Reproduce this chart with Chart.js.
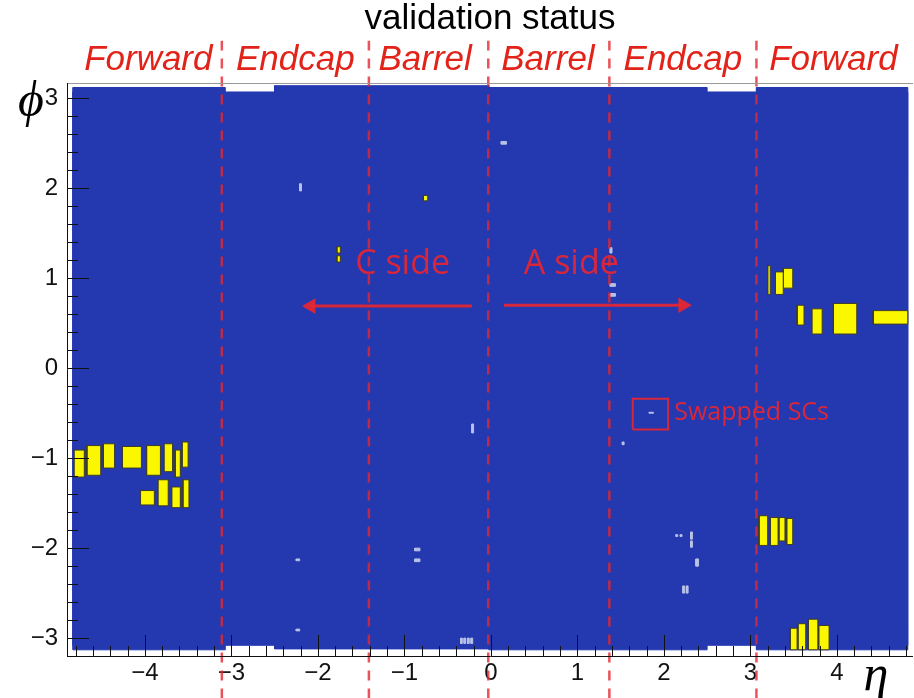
<!DOCTYPE html>
<html>
<head>
<meta charset="utf-8">
<script src="https://cdn.jsdelivr.net/npm/chart.js@4.4.1/dist/chart.umd.min.js"></script>
<style>
  html, body { margin: 0; padding: 0; background: #fff; }
</style>
</head>
<body>
<canvas id="status" width="914" height="698"></canvas>
<script>
// axis ranges (eta, phi)
const etaRange = [-4.9, 4.88];
const phiRange = [-3.21, 3.17];
const etaTicks = [-4, -3, -2, -1, 0, 1, 2, 3, 4];
const phiTicks = [-3, -2, -1, 0, 1, 2, 3];

// detector regions along the top
const regionNames = ['Forward', 'Endcap', 'Barrel', 'Barrel', 'Endcap', 'Forward'];
const regionCentres = [-3.96, -2.26, -0.76, 0.66, 2.22, 3.96];
const regionBounds = [-3.11, -1.41, -0.03, 1.37, 3.07];

// histogram content, each cell is [eta1, eta2, phi1, phi2]
const covered = [
  [-4.83, 4.82, -3.08, 3.07],
  [-4.83, -3.07, -3.13, 3.12],
  [-2.50, -0.02, -3.12, 3.14],
  [-0.02, 2.50, -3.13, 3.12],
  [3.07, 4.82, -3.13, 3.12]
];
const failedCells = [
  [-4.82, -4.70, -1.21, -0.91], [-4.67, -4.51, -1.19, -0.86], [-4.48, -4.35, -1.11, -0.84],
  [-4.26, -4.04, -1.11, -0.87], [-3.98, -3.82, -1.19, -0.86], [-3.78, -3.68, -1.15, -0.84],
  [-3.65, -3.59, -1.21, -0.91], [-3.57, -3.50, -1.10, -0.82],
  [-4.05, -3.89, -1.52, -1.36], [-3.85, -3.73, -1.53, -1.24], [-3.69, -3.59, -1.55, -1.32],
  [-3.56, -3.49, -1.55, -1.24],
  [3.20, 3.23, 0.82, 1.14], [3.29, 3.38, 0.82, 1.07], [3.38, 3.49, 0.89, 1.11],
  [3.54, 3.62, 0.48, 0.70], [3.71, 3.83, 0.38, 0.66], [3.96, 4.23, 0.38, 0.72],
  [4.42, 4.82, 0.49, 0.64],
  [3.10, 3.20, -1.97, -1.64], [3.23, 3.32, -1.97, -1.66], [3.33, 3.40, -1.92, -1.66],
  [3.42, 3.49, -1.96, -1.67],
  [3.46, 3.54, -3.13, -2.89], [3.55, 3.64, -3.13, -2.84], [3.67, 3.78, -3.13, -2.79],
  [3.79, 3.91, -3.13, -2.86],
  [-1.78, -1.74, 1.28, 1.35], [-1.78, -1.74, 1.18, 1.25], [-0.78, -0.73, 1.86, 1.92]
];
const weakCells = [
  [-2.21, -2.19, 1.97, 2.05], [0.12, 0.18, 2.49, 2.52], [1.38, 1.44, 0.91, 0.94],
  [1.38, 1.44, 0.80, 0.83], [1.38, 1.40, 1.28, 1.34], [-0.22, -0.20, -0.72, -0.62],
  [-0.88, -0.82, -2.03, -2.00], [-0.88, -0.82, -2.15, -2.12], [-2.25, -2.21, -2.14, -2.12],
  [-2.25, -2.21, -2.92, -2.90], [-0.35, -0.33, -3.06, -3.00], [-0.31, -0.29, -3.06, -3.00],
  [-0.27, -0.25, -3.06, -3.00], [-0.23, -0.21, -3.06, -3.00], [2.14, 2.16, -1.87, -1.85],
  [2.19, 2.21, -1.87, -1.85], [2.31, 2.33, -1.90, -1.82], [2.31, 2.33, -1.99, -1.92],
  [2.37, 2.40, -2.20, -2.12], [2.22, 2.24, -2.50, -2.42], [2.26, 2.28, -2.50, -2.42],
  [1.52, 1.54, -0.85, -0.82], [1.83, 1.88, -0.50, -0.49]
];

// annotations
const arrows = [[-0.22, -2.08, 0.69], [0.15, 2.22, 0.70]]; // [from, to, phi]
const boxes = [[1.64, 2.05, -0.68, -0.34]];
const notes = ['C side', 'A side', 'Swapped SCs'];
const noteEta = [-1.02, 0.93, 2.12];
const notePhi = [1.16, 1.16, -0.50];

const BLUE = '#2438b0';
const RED = 'rgba(232, 38, 48, 0.92)';

function rect(c) {
  return [{x: c[0], y: c[2]}, {x: c[1], y: c[2]}, {x: c[1], y: c[3]}, {x: c[0], y: c[3]}, {x: c[0], y: c[2]}];
}

function cellSet(c, fillCol, lineCol, order) {
  return {
    data: rect(c), showLine: true, fill: 'shape', pointRadius: 0,
    backgroundColor: fillCol, borderColor: lineCol, borderWidth: 1, order: order
  };
}

const datasets = [];
covered.forEach(c => datasets.push(cellSet(c, BLUE, BLUE, 10)));
failedCells.forEach(c => datasets.push(cellSet(c, '#fbf700', '#3c3c28', 6)));
weakCells.forEach(c => datasets.push(cellSet(c, '#b9c2e6', '#b9c2e6', 5)));

regionBounds.forEach(e => datasets.push({
  data: [{x: e, y: -3.67}, {x: e, y: 3.64}], showLine: true, fill: false, clip: false,
  pointRadius: 0, borderColor: 'rgba(228, 40, 50, 0.8)', borderWidth: 2.5,
  borderDash: [10, 8], order: 1
}));

arrows.forEach(a => datasets.push({
  data: [{x: a[0], y: a[2]}, {x: a[1], y: a[2]}], showLine: true, fill: false,
  borderColor: RED, borderWidth: 3, pointStyle: 'triangle',
  pointRadius: [0, 9], rotation: [0, a[1] < a[0] ? 270 : 90],
  pointBackgroundColor: RED, pointBorderWidth: 0, order: 2
}));

boxes.forEach(b => datasets.push({
  data: rect(b), showLine: true, fill: false, pointRadius: 0,
  borderColor: RED, borderWidth: 2, order: 2
}));

const minus = v => (v < 0 ? '\u2212' + Math.abs(v) : String(v));

// fixed axis sizes, no extra padding for overhanging labels
function fixSize(h, w) {
  return s => {
    if (h !== null) s.height = h;
    if (w !== null) s.width = w;
    s.paddingLeft = s.paddingRight = s.paddingTop = s.paddingBottom = 0;
  };
}

// ROOT style frame with inward ticks
const frameTicks = {
  id: 'frameTicks',
  afterDatasetsDraw(chart) {
    const {ctx, chartArea: a, scales: {x, y}} = chart;
    ctx.save();
    ctx.lineWidth = 1;
    ctx.strokeStyle = '#999';
    ctx.beginPath();
    ctx.moveTo(a.left, a.top + 0.5);
    ctx.lineTo(a.right, a.top + 0.5);
    ctx.stroke();
    ctx.strokeStyle = '#111';
    ctx.beginPath();
    ctx.moveTo(a.left + 0.5, a.top);
    ctx.lineTo(a.left + 0.5, a.bottom - 0.5);
    ctx.lineTo(a.right, a.bottom - 0.5);
    for (let k = Math.ceil(etaRange[0] * 5); k <= Math.floor(etaRange[1] * 5); k++) {
      const px = Math.round(x.getPixelForValue(k / 5)) + 0.5;
      ctx.moveTo(px, a.bottom);
      ctx.lineTo(px, a.bottom - (k % 5 === 0 ? 22 : 11));
    }
    for (let k = Math.ceil(phiRange[0] * 5); k <= Math.floor(phiRange[1] * 5); k++) {
      const py = Math.round(y.getPixelForValue(k / 5)) + 0.5;
      ctx.moveTo(a.left, py);
      ctx.lineTo(a.left + (k % 5 === 0 ? 22 : 11), py);
    }
    ctx.stroke();
    ctx.restore();
  },
  afterDraw(chart) {
    const {ctx, chartArea: a, scales: {x, y}} = chart;
    ctx.save();
    ctx.fillStyle = '#000';
    ctx.textAlign = 'center';
    ctx.textBaseline = 'middle';
    ctx.font = 'italic 50px "Liberation Serif", "DejaVu Serif", serif';
    ctx.fillText('\u03D5', a.left - 36, a.top + 20);
    ctx.fillText('\u03B7', 876, a.bottom + 20);
    ctx.fillStyle = RED;
    notes.forEach((t, i) => {
      ctx.font = (i === 2 ? '25px' : '34px') + ' "Open Sans", "Liberation Sans", sans-serif';
      ctx.textAlign = i === 2 ? 'left' : 'center';
      ctx.fillText(t, x.getPixelForValue(noteEta[i]), y.getPixelForValue(notePhi[i]));
    });
    ctx.restore();
  }
};

new Chart(document.getElementById('status'), {
  type: 'scatter',
  data: { datasets },
  options: {
    responsive: false,
    devicePixelRatio: 1,
    animation: false,
    layout: { autoPadding: false, padding: { left: 0, right: 1, top: 0, bottom: 0 } },
    plugins: {
      legend: { display: false },
      tooltip: { enabled: false },
      title: {
        display: true,
        fullSize: false,
        text: 'validation status',
        color: '#000',
        font: { family: '"Liberation Sans", Arial, sans-serif', size: 35, weight: 'normal', lineHeight: 1.0 },
        padding: { top: 2, bottom: 0 }
      }
    },
    scales: {
      x: {
        type: 'linear', position: 'bottom',
        min: etaRange[0], max: etaRange[1],
        afterBuildTicks: s => { s.ticks = etaTicks.map(v => ({ value: v })); },
        afterFit: fixSize(41, null),
        ticks: {
          autoSkip: false, maxRotation: 0, padding: 2, color: '#111',
          font: { family: '"Liberation Sans", Arial, sans-serif', size: 24 },
          callback: v => minus(v)
        },
        grid: { display: false, drawTicks: false },
        border: { display: false }
      },
      top: {
        type: 'linear', position: 'top',
        min: etaRange[0], max: etaRange[1],
        afterBuildTicks: s => { s.ticks = regionCentres.map(v => ({ value: v })); },
        afterFit: fixSize(46, null),
        ticks: {
          autoSkip: false, maxRotation: 0, padding: 2, color: '#e2231a',
          font: { family: '"Liberation Sans", Arial, sans-serif', size: 35, style: 'italic' },
          callback: (v, i) => regionNames[i]
        },
        grid: { display: false, drawTicks: false },
        border: { display: false }
      },
      y: {
        type: 'linear', position: 'left',
        min: phiRange[0], max: phiRange[1],
        afterBuildTicks: s => { s.ticks = phiTicks.map(v => ({ value: v })); },
        afterFit: fixSize(null, 67),
        ticks: {
          autoSkip: false, padding: 9, color: '#111',
          font: { family: '"Liberation Sans", Arial, sans-serif', size: 24 },
          callback: v => minus(v)
        },
        grid: { display: false, drawTicks: false },
        border: { display: false }
      }
    }
  },
  plugins: [frameTicks]
});
</script>
</body>
</html>
